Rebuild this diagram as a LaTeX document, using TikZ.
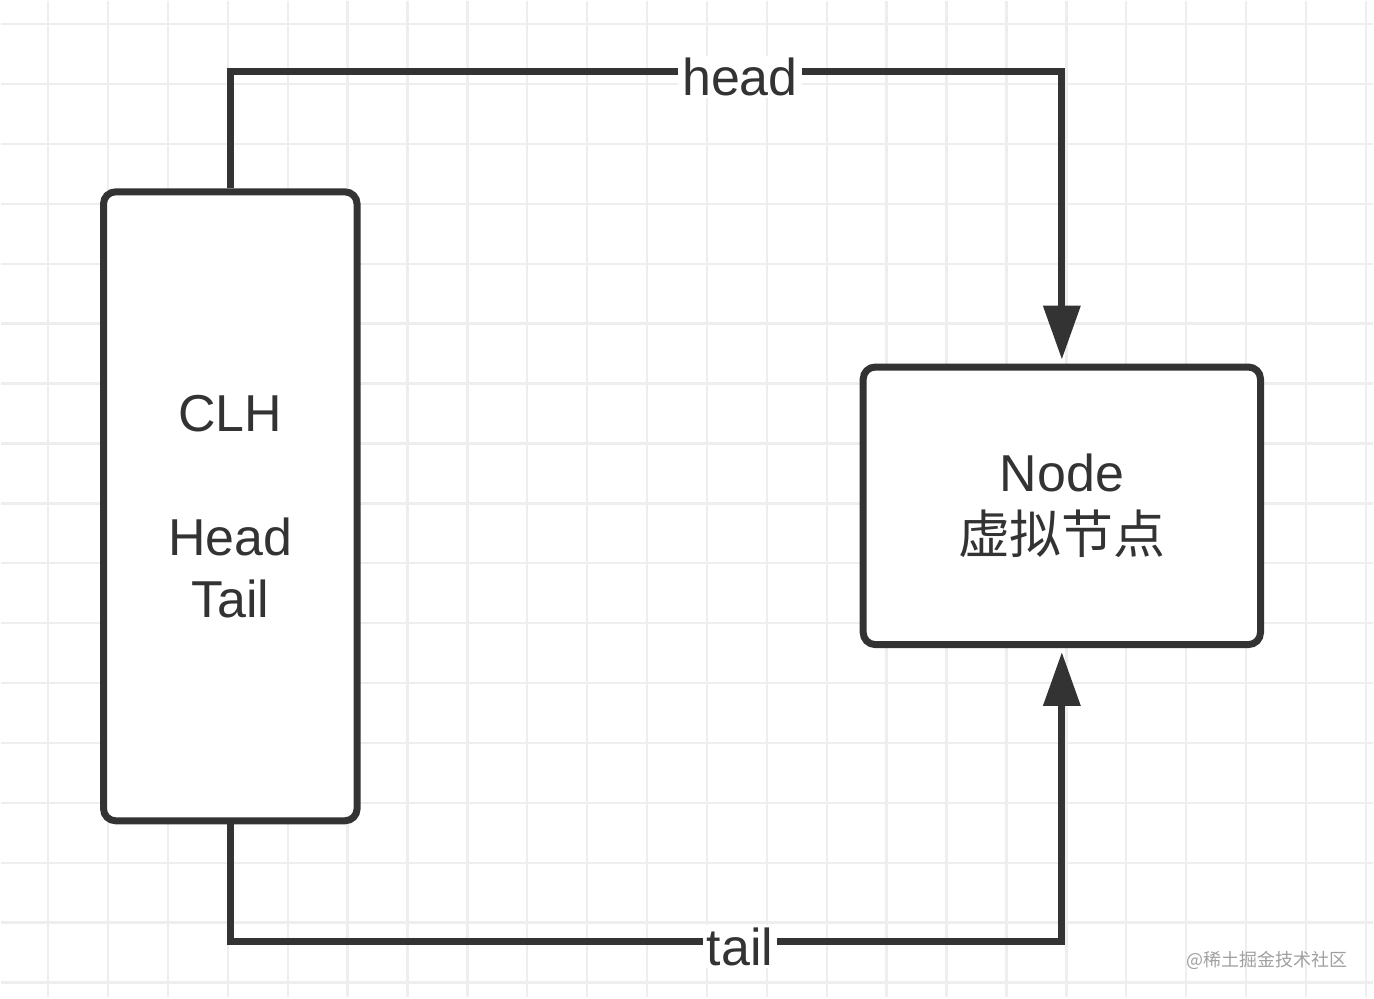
\documentclass[tikz,border=0pt]{standalone}
\usepackage{fontspec}
\setmainfont{Liberation Sans}
\newfontfamily\cjk{Noto Sans CJK SC}
\usetikzlibrary{arrows.meta,positioning}
\definecolor{ink}{HTML}{333333}
\definecolor{gridgray}{HTML}{EEEEEE}
\definecolor{markgray}{HTML}{A0A0A0}
\tikzset{
	box/.style={draw=ink, line width=3.5pt, rounded corners=6pt, fill=white, inner sep=0pt, text=ink, align=center, font=\fontsize{26}{31}\selectfont},
	link/.style={draw=ink, line width=3.5pt, -{Triangle[length=27pt,width=18pt]}, shorten >=2pt},
	lbl/.style={fill=white, text=ink, inner xsep=2pt, inner ysep=1pt, font=\fontsize{26}{31}\selectfont}
}
\begin{document}
\begin{tikzpicture}[x=0.5pt,y=-0.5pt]
	\fill[white] (0,0) rectangle (1374,998);
	\foreach \x in {47,107,...,1367}
		\draw[gridgray, line width=1.2pt] (\x,0) -- (\x,998);
	\foreach \y in {23,83,...,983}
		\draw[gridgray, line width=1.2pt] (0,\y) -- (1374,\y);

	\node[box, minimum width=127pt, minimum height=315pt] (clh) at (229.5,506) {CLH\\ \\Head\\Tail};
	\node[box, minimum width=199pt, minimum height=139pt] (virt) at (1062.5,505.5) {Node\\{\cjk 虚拟节点}};

	\coordinate (headbar) at (740,70);
	\coordinate (tailbar) at (740,942);
	\draw[link] (clh.north) |- (headbar) -| (virt.north);
	\draw[link] (clh.south) |- (tailbar) -| (virt.south);
	\node[lbl] (headlbl) at (740,76) {head};
	\node[lbl] (taillbl) at (740,947) {tail};

	\node[text=markgray, font=\cjk\fontsize{9}{11}\selectfont] (mark) at (1268,961) {@稀土掘金技术社区};
\end{tikzpicture}
\end{document}
